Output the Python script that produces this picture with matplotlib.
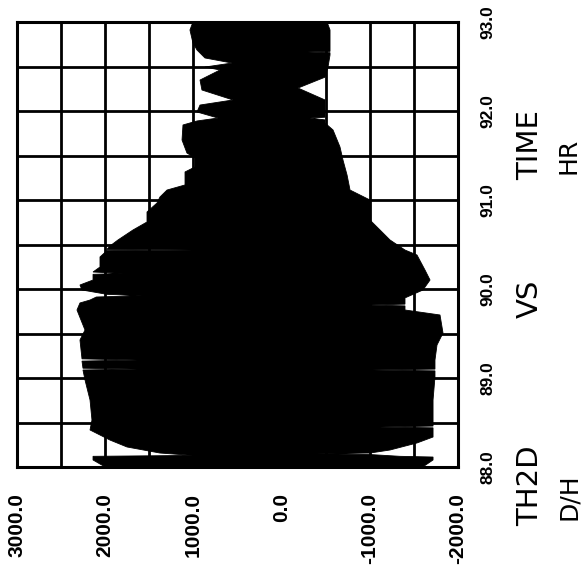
import matplotlib
matplotlib.use("Agg")
import matplotlib.pyplot as plt
from matplotlib.ticker import FixedLocator, MultipleLocator

# ---- data: envelope of TH2D (D/H) vs TIME (HR) ----
upper_time = [93.000, 92.910, 92.764, 92.685, 92.596, 92.539, 92.494, 92.461,
              92.348, 92.236, 92.124, 92.067, 91.989, 91.921, 91.888, 91.843,
              91.674, 91.528, 91.472, 91.371, 91.315, 91.169, 91.112, 91.034,
              90.966, 90.865, 90.753, 90.663, 90.551, 90.483, 90.445, 90.438,
              90.431, 90.360, 90.247, 90.191, 90.175, 90.165, 90.101, 90.045,
              89.989, 89.940, 89.925, 89.910, 89.876, 89.843, 89.764, 89.539,
              89.427, 89.215, 89.202, 89.190, 89.110, 89.100, 89.090, 88.978,
              88.753, 88.528, 88.416, 88.303, 88.225, 88.157, 88.130, 88.120,
              88.079, 88.000]
upper_th2d = [1005, 1039, 1005, 959, 869, 562, 869, 698,
              925, 903, 551, 925, 959, 721, 959, 1118,
              1129, 1073, 982, 982, 1095, 1095, 1299, 1379,
              1413, 1526, 1526, 1685, 1855, 1946, 1980, 1016,
              1980, 2059, 2059, 2138, 1798, 2138, 2138, 2286,
              2263, 1980, 1583, 2100, 2172, 2286, 2320, 2229,
              2286, 2263, 1640, 2263, 2252, 1640, 2252, 2229,
              2172, 2150, 2172, 1946, 1753, 1379, 1005, 2138,
              2138, 2000]

lower_time = [93.000, 92.910, 92.670, 92.663, 92.655, 92.629, 92.494, 92.380,
              92.258, 92.124, 91.978, 91.930, 91.921, 91.900, 91.865, 91.787,
              91.596, 91.449, 91.281, 91.112, 91.000, 90.775, 90.663, 90.551,
              90.438, 90.382, 90.213, 90.101, 89.989, 89.900, 89.830, 89.820,
              89.810, 89.764, 89.708, 89.506, 89.371, 89.202, 89.100, 89.090,
              89.080, 89.011, 88.753, 88.528, 88.460, 88.449, 88.440, 88.337,
              88.270, 88.191, 88.157, 88.150, 88.140, 88.120, 88.112, 88.079,
              88.000]
lower_th2d = [-515, -549, -549, -299, -549, -549, -526, -492,
              -186, -492, -492, -492, -322, -492, -492, -583,
              -662, -696, -742, -776, -1002, -1002, -1116, -1229,
              -1399, -1535, -1626, -1683, -1603, -1399, -1399, -1002,
              -1399, -1399, -1796, -1830, -1762, -1739, -1739, -1036,
              -1739, -1739, -1717, -1717, -1717, -1116, -1717, -1717,
              -1535, -1229, -1002, -401, -1002, -1342, -1717, -1717,
              -1600]

th2d_ticks = [3000, 2000, 1000, 0, -1000, -2000]
th2d_tick_labels = ["3000.0", "2000.0", "1000.0", "0.0", "-1000.0", "-2000.0"]
time_ticks = [88, 89, 90, 91, 92, 93]
time_tick_labels = ["88.0", "89.0", "90.0", "91.0", "92.0", "93.0"]

tick_font = dict(family=["Liberation Sans", "DejaVu Sans"], weight="bold")

fig = plt.figure(figsize=(5.87, 5.80), dpi=100)
ax = fig.add_axes([17 / 587, 1 - 467 / 580, (458 - 17) / 587, (467 - 22) / 580])

# black oscillation envelope (plot is drawn rotated: TH2D horizontal, TIME vertical)
xs = list(upper_th2d) + list(lower_th2d)[::-1]
ys = list(upper_time) + list(lower_time)[::-1]
ax.fill(xs, ys, color="black", lw=0.6, zorder=3)

ax.set_xlim(3000, -2000)
ax.set_ylim(88, 93)

ax.xaxis.set_major_locator(FixedLocator(th2d_ticks))
ax.xaxis.set_minor_locator(MultipleLocator(500))
ax.yaxis.set_major_locator(FixedLocator(time_ticks))
ax.yaxis.set_minor_locator(MultipleLocator(0.5))
ax.grid(which="both", color="black", lw=2.0, zorder=1)
ax.set_axisbelow(True)

ax.set_xticklabels(th2d_tick_labels, rotation=90, fontsize=15, **tick_font)
ax.yaxis.tick_right()
ax.set_yticklabels(time_tick_labels, rotation=90, va="center", fontsize=12.5, **tick_font)
ax.tick_params(axis="x", which="both", length=0, pad=19)
ax.tick_params(axis="y", which="both", length=0, pad=16)

for s in ax.spines.values():
    s.set_linewidth(2.2)
    s.set_color("black")
    s.set_zorder(4)

# rotated axis titles
fig.text(530 / 587, 1 - 486 / 580, "TH2D", rotation=90, ha="center", va="center", fontsize=21)
fig.text(530 / 587, 1 - 299 / 580, "VS", rotation=90, ha="center", va="center", fontsize=21)
fig.text(530 / 587, 1 - 145 / 580, "TIME", rotation=90, ha="center", va="center", fontsize=21)
fig.text(569 / 587, 1 - 497 / 580, "D/H", rotation=90, ha="center", va="center", fontsize=18)
fig.text(569 / 587, 1 - 156 / 580, "HR", rotation=90, ha="center", va="center", fontsize=18)

fig.savefig("out.png", dpi=100, facecolor="white")
